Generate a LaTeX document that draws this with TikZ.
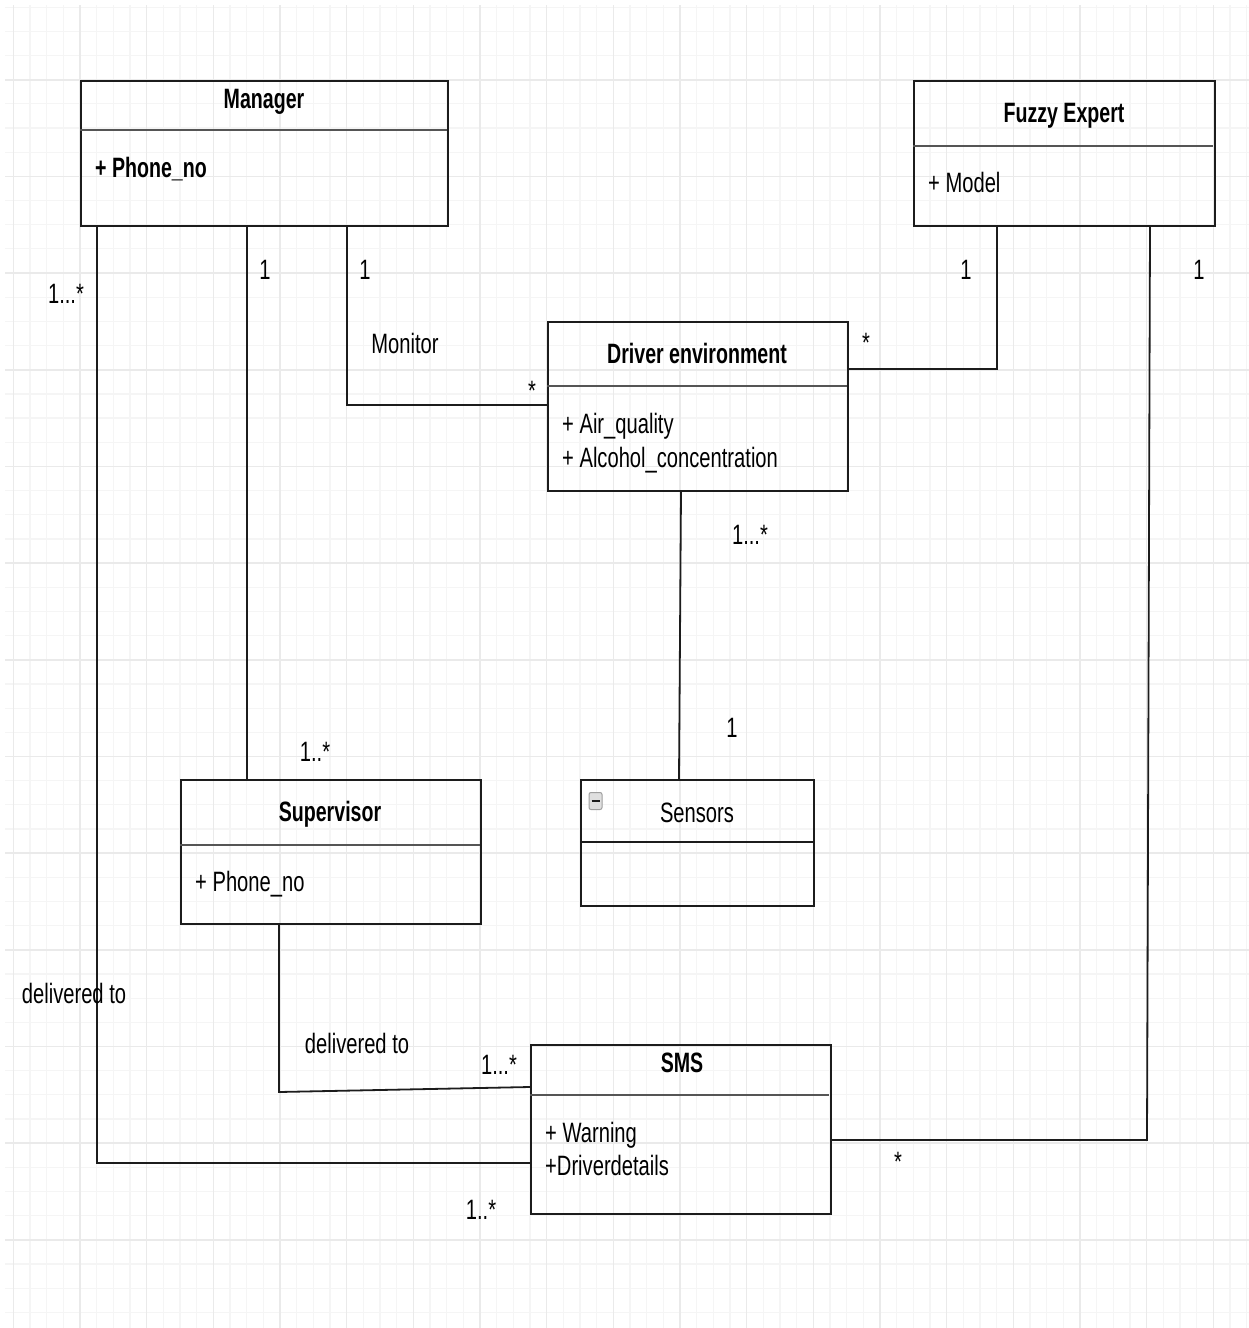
\documentclass[tikz,border=0pt]{standalone}
\usepackage{fontspec}
\setmainfont{Liberation Sans}[FakeStretch=0.72, BoldFeatures={FakeStretch=0.7}]
\definecolor{linec}{HTML}{1C1C1C}
\definecolor{sepc}{HTML}{555555}
\definecolor{minorg}{HTML}{F5F5F5}
\definecolor{majorg}{HTML}{EAEAEA}
\tikzset{
  cls/.style={draw=linec, line width=2pt, rectangle, anchor=north west, inner sep=0pt},
  sepline/.style={draw=sepc, line width=2.6pt},
  conn/.style={draw=linec, line width=1.8pt},
  ttl/.style={font=\bfseries, anchor=base, inner sep=0pt},
  attr/.style={anchor=base west, inner sep=0pt},
  lbl/.style={anchor=base, inner sep=0pt},
  minorgrid/.style={draw=minorg, line width=1.2pt},
  majorgrid/.style={draw=majorg, line width=1.6pt},
}
\begin{document}
\fontsize{28}{32}\selectfont
\begin{tikzpicture}[x=1pt,y=-1pt]
\useasboundingbox (0,0) rectangle (1249,1328);
% grid
\begin{scope}
\clip (5,5) rectangle (1249,1328);
\foreach \i in {0,...,74} \draw[minorgrid] ({13.33+16.667*\i},5) -- ({13.33+16.667*\i},1328);
\foreach \k in {-3,...,51} \draw[minorgrid] (5,{79.7+24.17*\k}) -- (1249,{79.7+24.17*\k});
\foreach \i in {0,...,18} \draw[majorgrid] ({13.33+66.667*\i},5) -- ({13.33+66.667*\i},1328);
\foreach \k in {0,...,12} \draw[majorgrid] (5,{79.7+96.67*\k}) -- (1249,{79.7+96.67*\k});
\end{scope}

% class boxes
\node[cls, minimum width=367pt, minimum height=145pt] (mgr) at (80,80) {};
\node[cls, minimum width=301pt, minimum height=145pt] (fuz) at (913,80) {};
\node[cls, minimum width=300pt, minimum height=169pt] (drv) at (547,321) {};
\node[cls, minimum width=300pt, minimum height=144pt] (sup) at (180,779) {};
\node[cls, minimum width=233pt, minimum height=126pt] (sen) at (580,779) {};
\node[cls, minimum width=300pt, minimum height=169pt] (sms) at (530,1044) {};

% separators
\draw[sepline] (mgr.west |- 0,130) -- ([xshift=-2pt]mgr.east |- 0,130);
\draw[sepline] (fuz.west |- 0,146) -- ([xshift=-3pt]fuz.east |- 0,146);
\draw[sepline] (drv.west |- 0,386) -- ([xshift=-2pt]drv.east |- 0,386);
\draw[sepline] (sup.west |- 0,845) -- ([xshift=-2pt]sup.east |- 0,845);
\draw[draw=linec, line width=2.4pt] (sen.west |- 0,842) -- (sen.east |- 0,842);
\draw[sepline] (sms.west |- 0,1095) -- ([xshift=-3pt]sms.east |- 0,1095);

% titles and attributes
\node[ttl] (mgrt) at (264,108) {Manager};
\node[attr, font=\bfseries] (mgra) at (95,177) {+ Phone\_no};
\node[ttl] (fuzt) at (1064,122) {Fuzzy Expert};
\node[attr] (fuza) at (928,192) {+ Model};
\node[ttl] (drvt) at (697,363) {Driver environment};
\node[attr] (drva) at (562,433) {+ Air\_quality};
\node[attr] (drvb) at (562,467) {+ Alcohol\_concentration};
\node[ttl] (supt) at (330,821) {Supervisor};
\node[attr] (supa) at (195,891) {+ Phone\_no};
\node[lbl] (sent) at (697,822) {Sensors};
\node[ttl] (smst) at (682,1072) {SMS};
\node[attr] (smsa) at (545,1142) {+ Warning};
\node[attr] (smsb) at (545,1175) {+Driverdetails};

% sensors icon
\node[draw=gray!75, fill=gray!25, rounded corners=2pt, line width=1pt, minimum width=13pt, minimum height=17pt, inner sep=0pt] (icon) at (595.5,801) {};
\draw[line width=2pt, draw=linec] ([xshift=3pt]icon.west) -- ([xshift=-3pt]icon.east);

% connectors
\draw[conn] (mgr.south -| 247,0) -- (sup.north -| 247,0);
\draw[conn] (mgr.south -| 347,0) -- (347,405) -- (drv.west |- 0,405);
\draw[conn] (mgr.south -| 97,0) -- (97,1163) -- (sms.west |- 0,1163);
\draw[conn] (drv.east |- 0,369) -- (997,369) -- (fuz.south -| 997,0);
\draw[conn] (fuz.south -| 1150,0) -- (1147,1140) -- (sms.east |- 0,1140);
\draw[conn] (drv.south -| 681,0) -- (sen.north -| 679,0);
\draw[conn] (sup.south -| 279,0) -- (279,1092) -- (sms.west |- 0,1087);

% labels
\node[lbl] (l1) at (265,279) {1};
\node[lbl] (l2) at (365,279) {1};
\node[lbl] (l3) at (66,303) {1...*};
\node[lbl] (l4) at (405,353) {Monitor};
\node[lbl] (l5) at (532,400) {*};
\node[lbl] (l6) at (866,352) {*};
\node[lbl] (l7) at (966,279) {1};
\node[lbl] (l8) at (1199,279) {1};
\node[lbl] (l9) at (750,544) {1...*};
\node[lbl] (l10) at (732,737) {1};
\node[lbl] (l11) at (315,761) {1..*};
\node[lbl] (l12) at (74,1003) {delivered to};
\node[lbl] (l13) at (357,1053) {delivered to};
\node[lbl] (l14) at (499,1074) {1...*};
\node[lbl] (l15) at (898,1171) {*};
\node[lbl] (l16) at (481,1219) {1..*};
\end{tikzpicture}
\end{document}
